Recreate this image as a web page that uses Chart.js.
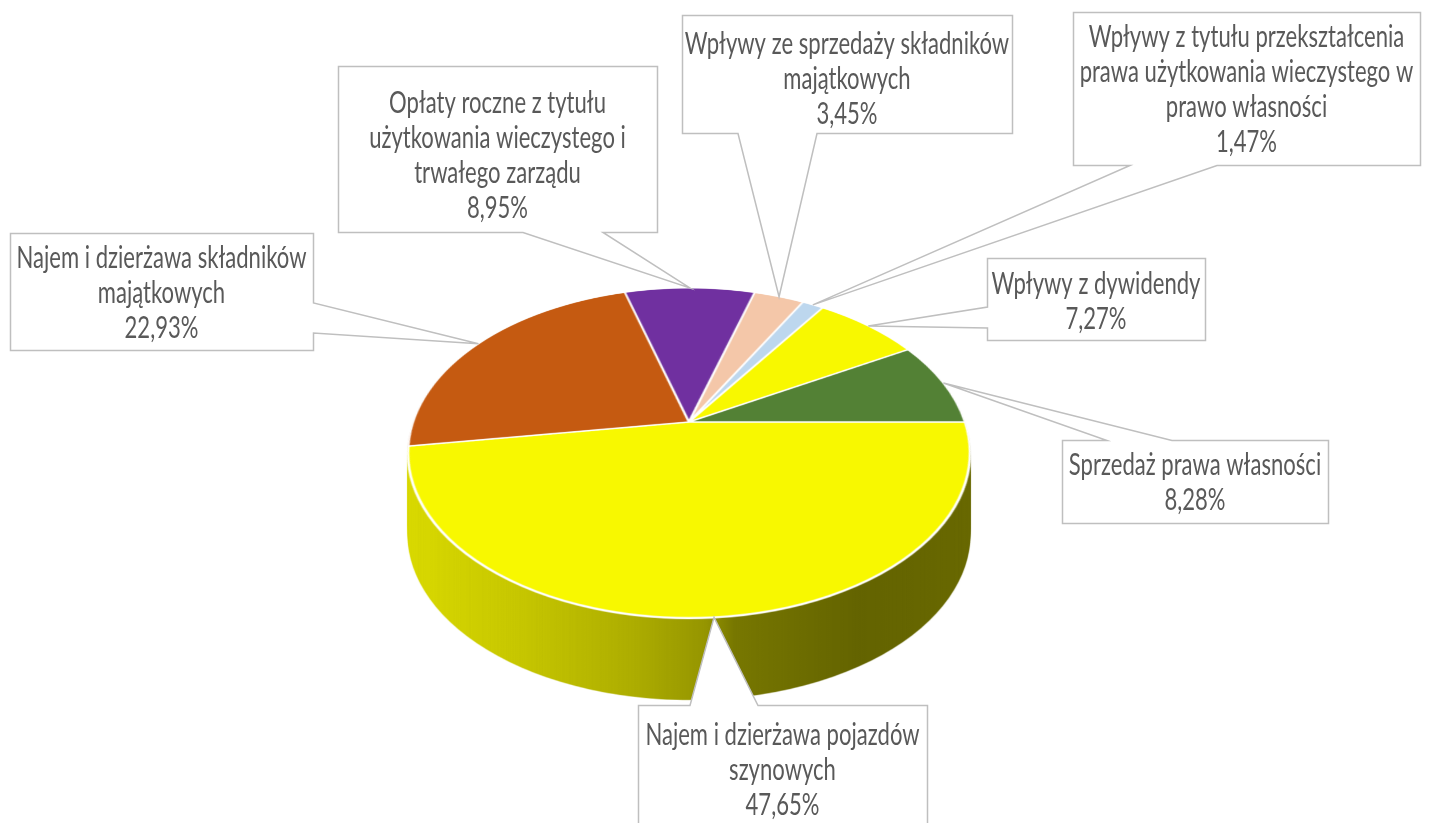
<!DOCTYPE html>
<html>
<head>
<meta charset="utf-8">
<script src="https://cdn.jsdelivr.net/npm/chart.js@4.4.0/dist/chart.umd.min.js"></script>
<style>
  html, body { margin: 0; padding: 0; background: #ffffff; }
  #wrap { width: 1431px; height: 823px; position: relative; }
</style>
</head>
<body>
<div id="wrap"><canvas id="c" width="1431" height="823"></canvas></div>
<script>
// ---------- DATA ----------
const categoryLines = [
  ["Najem i dzierżawa pojazdów", "szynowych"],
  ["Najem i dzierżawa składników", "majątkowych"],
  ["Opłaty roczne z tytułu", "użytkowania wieczystego i", "trwałego zarządu"],
  ["Wpływy ze sprzedaży składników", "majątkowych"],
  ["Wpływy z tytułu przekształcenia", "prawa użytkowania wieczystego w", "prawo własności"],
  ["Wpływy z dywidendy"],
  ["Sprzedaż prawa własności"]
];
const shares = [47.65, 22.93, 8.95, 3.45, 1.47, 7.27, 8.28];

// ---------- STYLE / LAYOUT ----------
const sliceColors = ["#F8F800", "#C55A11", "#7030A0", "#F4C7A9", "#BDD7EE", "#F8F800", "#538135"];
// perspective projection of the pie plane
const PROJ = { cx: 689, cy: 422, a: 276, c: 159.2, b: 0.1879, depth: 82 };
// callout boxes: box rectangle, side carrying the pointer, pointer base, first text line y
const callouts = [
  { x: 638, y: 705, w: 289, h: 140, side: "top",    b: [690, 758],   ty: 735 },
  { x: 10,  y: 233, w: 303, h: 117, side: "right",  b: [303, 333],   ty: 258 },
  { x: 338, y: 66,  w: 319, h: 166, side: "bottom", b: [523, 603],   ty: 103 },
  { x: 682, y: 15,  w: 330, h: 118, side: "bottom", b: [738, 817],   ty: 44 },
  { x: 1073,y: 12,  w: 347, h: 153, side: "bottom", b: [1130, 1217], ty: 37 },
  { x: 987, y: 258, w: 218, h: 82,  side: "left",   b: [307, 328],   ty: 284 },
  { x: 1062,y: 440, w: 266, h: 83,  side: "top",    b: [1107, 1172], ty: 465 }
];
const LINE_H = 35;
const FONT = "30px Lato";
const TEXT_COLOR = "#595959";
const BOX_COLOR = "#BFBFBF";

function fmtPct(v) { return v.toFixed(2).replace(".", ",") + "%"; }

function proj(u, v) {
  const w = 1 - PROJ.b * v;
  return { x: PROJ.cx + PROJ.a * u / w, y: PROJ.cy + PROJ.c * v / w };
}

function mkCanvas(w, h) {
  const c = document.createElement("canvas");
  c.width = w; c.height = h;
  return c;
}

// warp a flat circle image (src square, circle radius R centred) onto dst with the projection
function warp(src, R, dctx, H) {
  const size = src.width, half = size / 2, lim = half / R;
  dctx.imageSmoothingEnabled = true;
  dctx.imageSmoothingQuality = "high";
  for (let y = 0; y < H; y++) {
    const t0 = y - PROJ.cy, t1 = y + 1 - PROJ.cy;
    let v0 = t0 / (PROJ.c + PROJ.b * t0), v1 = t1 / (PROJ.c + PROJ.b * t1);
    if (v1 <= -lim || v0 >= lim) continue;
    v0 = Math.max(v0, -lim); v1 = Math.min(v1, lim);
    const vm = (v0 + v1) / 2, w = 1 - PROJ.b * vm;
    const sA = half + v0 * R, sB = half + v1 * R;
    if (sB - sA <= 0) continue;
    const dw = 2 * PROJ.a * lim / w;
    dctx.drawImage(src, 0, sA, size, sB - sA, PROJ.cx - dw / 2, y, dw, 1);
  }
}

const perspectivePlugin = {
  id: "perspective3d",
  afterDatasetsDraw(chart) {
    const ctx = chart.ctx, W = chart.width, H = chart.height;
    const meta = chart.getDatasetMeta(0);
    const el0 = meta.data[0];
    const R = el0.outerRadius, scx = el0.x, scy = el0.y;
    const m = 6, size = Math.ceil(2 * (R + m));
    const sx0 = scx - size / 2, sy0 = scy - size / 2;

    // flat pie with borders (as drawn by Chart.js)
    const S1 = mkCanvas(size, size);
    S1.getContext("2d").drawImage(chart.canvas, sx0, sy0, size, size, 0, 0, size, size);
    ctx.clearRect(0, 0, W, H);

    // flat pie without borders for the side wall
    meta.data.forEach(el => {
      const orig = el.options;
      el.options = Object.assign({}, orig, { borderWidth: 0 });
      el.draw(ctx);
      el.options = orig;
    });
    const S0 = mkCanvas(size, size);
    S0.getContext("2d").drawImage(chart.canvas, sx0, sy0, size, size, 0, 0, size, size);
    ctx.clearRect(0, 0, W, H);

    // top face
    const T = mkCanvas(W, H);
    warp(S1, R, T.getContext("2d"), H);
    const T0 = mkCanvas(W, H);
    warp(S0, R, T0.getContext("2d"), H);

    // side wall
    const Wc = mkCanvas(W, H), wctx = Wc.getContext("2d");
    for (let d = PROJ.depth; d >= 1; d--) wctx.drawImage(T0, 0, d);
    wctx.globalCompositeOperation = "source-atop";
    const g = wctx.createLinearGradient(PROJ.cx - 285, 0, PROJ.cx + 285, 0);
    g.addColorStop(0.00, "rgba(0,0,0,0.12)");
    g.addColorStop(0.20, "rgba(0,0,0,0.20)");
    g.addColorStop(0.40, "rgba(0,0,0,0.30)");
    g.addColorStop(0.53, "rgba(0,0,0,0.40)");
    g.addColorStop(0.58, "rgba(0,0,0,0.52)");
    g.addColorStop(0.80, "rgba(0,0,0,0.60)");
    g.addColorStop(1.00, "rgba(0,0,0,0.58)");
    wctx.fillStyle = g;
    wctx.fillRect(0, 0, W, H);

    ctx.save();
    ctx.setTransform(1, 0, 0, 1, 0, 0);
    ctx.drawImage(Wc, 0, 0);
    ctx.drawImage(T, 0, 0);
    ctx.restore();
  },
  afterDraw(chart) {
    const ctx = chart.ctx;
    const meta = chart.getDatasetMeta(0);
    ctx.save();
    ctx.font = FONT;
    const sx = 290 / ctx.measureText("Najem i dzierżawa składników").width;
    meta.data.forEach((el, i) => {
      const co = callouts[i];
      const mid = (el.startAngle + el.endAngle) / 2;
      const tip = proj(Math.cos(mid), Math.sin(mid));
      const x0 = co.x + 0.5, y0 = co.y + 0.5, x1 = co.x + co.w + 0.5, y1 = co.y + co.h + 0.5;
      ctx.beginPath();
      if (co.side === "top") {
        ctx.moveTo(x0, y0); ctx.lineTo(co.b[0], y0); ctx.lineTo(tip.x, tip.y); ctx.lineTo(co.b[1], y0);
        ctx.lineTo(x1, y0); ctx.lineTo(x1, y1); ctx.lineTo(x0, y1);
      } else if (co.side === "bottom") {
        ctx.moveTo(x0, y0); ctx.lineTo(x1, y0); ctx.lineTo(x1, y1); ctx.lineTo(co.b[1], y1);
        ctx.lineTo(tip.x, tip.y); ctx.lineTo(co.b[0], y1); ctx.lineTo(x0, y1);
      } else if (co.side === "right") {
        ctx.moveTo(x0, y0); ctx.lineTo(x1, y0); ctx.lineTo(x1, co.b[0]); ctx.lineTo(tip.x, tip.y);
        ctx.lineTo(x1, co.b[1]); ctx.lineTo(x1, y1); ctx.lineTo(x0, y1);
      } else {
        ctx.moveTo(x0, y0); ctx.lineTo(x1, y0); ctx.lineTo(x1, y1); ctx.lineTo(x0, y1);
        ctx.lineTo(x0, co.b[1]); ctx.lineTo(tip.x, tip.y); ctx.lineTo(x0, co.b[0]);
      }
      ctx.closePath();
      ctx.fillStyle = "#FFFFFF";
      ctx.fill();
      ctx.lineWidth = 1.5;
      ctx.strokeStyle = BOX_COLOR;
      ctx.lineJoin = "miter";
      ctx.stroke();

      const lines = categoryLines[i].concat([fmtPct(shares[i])]);
      const cx = co.x + co.w / 2;
      ctx.fillStyle = TEXT_COLOR;
      ctx.textAlign = "center";
      ctx.textBaseline = "middle";
      lines.forEach((ln, k) => {
        ctx.save();
        ctx.translate(cx, co.ty + k * LINE_H);
        ctx.scale(sx, 1);
        ctx.fillText(ln, 0, 0);
        ctx.restore();
      });
    });
    ctx.restore();
  }
};

new Chart(document.getElementById("c"), {
  type: "pie",
  data: {
    labels: categoryLines.map(l => l.join(" ")),
    datasets: [{
      data: shares,
      backgroundColor: sliceColors,
      borderColor: "#FFFFFF",
      borderWidth: 3.5,
      hoverOffset: 0
    }]
  },
  options: {
    responsive: false,
    devicePixelRatio: 1,
    animation: false,
    rotation: 90,
    layout: { padding: 12 },
    plugins: { legend: { display: false }, tooltip: { enabled: false } },
    events: []
  },
  plugins: [perspectivePlugin]
});
</script>
</body>
</html>
